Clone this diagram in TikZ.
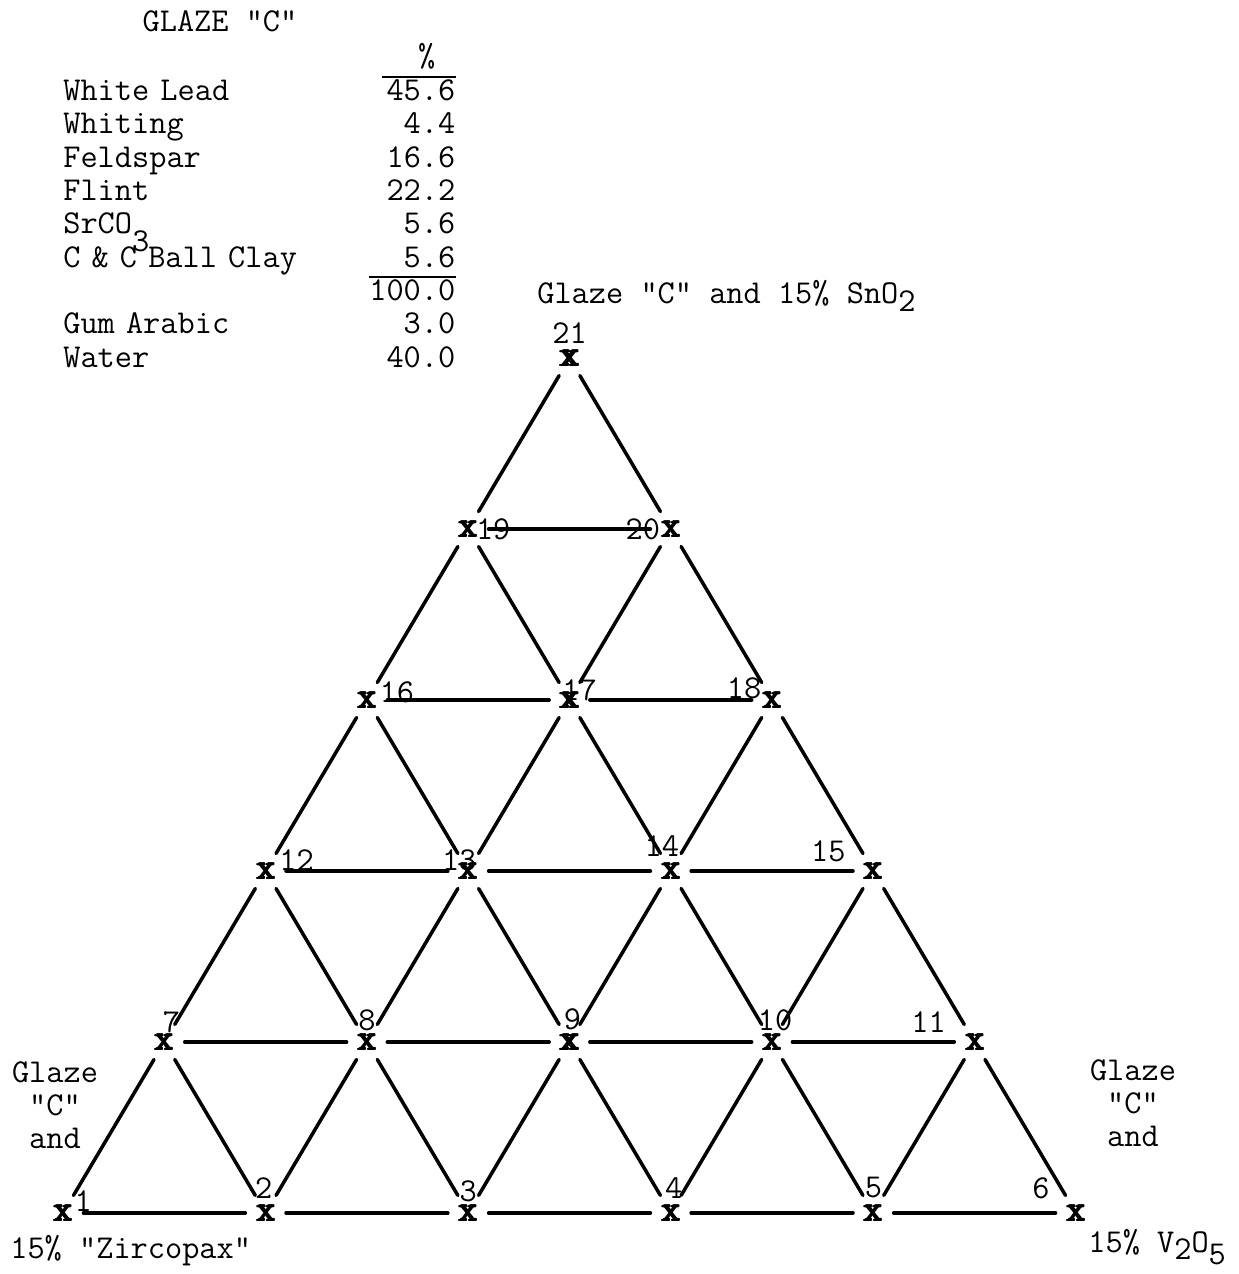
\documentclass[tikz,border=0pt]{standalone}
\usepackage{tikz}
\usetikzlibrary{matrix,positioning,calc}

\newcommand{\typew}{\ttfamily\fontsize{19}{18.7}\selectfont}
\newcommand{\lowered}[2][-8pt]{\raisebox{#1}{#2}}
\newcommand{\heavyx}{\rlap{x}\kern0.6pt\rlap{x}\kern0.6pt\rlap{\raisebox{0.4pt}{x}}x}

\tikzset{
  xmark/.style={circle, minimum size=0.8cm, inner sep=0pt, font=\ttfamily\fontsize{21}{21}\selectfont},
  numlbl/.style={inner sep=0pt, font=\typew},
  tieline/.style={line width=2pt, line cap=round},
  rule/.style={line width=1.2pt},
  note/.style={inner sep=0pt, font=\typew, align=center}
}

\begin{document}
\begin{tikzpicture}[x=0.02cm, y=-0.02cm]
\fill[white] (0,0) rectangle (1238,1274);
\useasboundingbox (0,0) rectangle (1238,1274);

% recipe of the glaze
\node[note, anchor=base] (title) at (220,32) {GLAZE "C"};
\matrix (recipe) [matrix of nodes, anchor=north west, inner sep=0pt, row sep=0pt, column sep=0pt,
  nodes={inner sep=0pt, text height=0.47cm, text depth=0.198cm, font=\typew},
  column 1/.style={nodes={text width=5.5cm, align=left}},
  column 2/.style={nodes={text width=2.34cm, align=right}}] at (63,43)
{
 & \%\hspace*{0.6em} \\
White Lead & 45.6 \\
Whiting & 4.4 \\
Feldspar & 16.6 \\
Flint & 22.2 \\
SrCO\lowered[-10pt]{3} & 5.6 \\
C \& C Ball Clay & 5.6 \\
 & 100.0 \\
Gum Arabic & 3.0 \\
Water & 40.0 \\
};
\draw[rule] (recipe-1-2.south east) -- ++(-74,0);
\draw[rule] (recipe-8-2.north east) -- ++(-87,0);

% the triangle of mixtures
\matrix (m) [matrix of nodes, nodes={xmark}, column sep=1.226cm, row sep=2.62cm] at (569.5,785.5)
{
  & & & & & \heavyx & & & & & \\
  & & & & \heavyx & & \heavyx & & & & \\
  & & & \heavyx & & \heavyx & & \heavyx & & & \\
  & & \heavyx & & \heavyx & & \heavyx & & \heavyx & & \\
  & \heavyx & & \heavyx & & \heavyx & & \heavyx & & \heavyx & \\
  \heavyx & & \heavyx & & \heavyx & & \heavyx & & \heavyx & & \heavyx \\
};
\path[tieline]
(m-6-1) edge (m-6-3) edge (m-5-2)
(m-6-3) edge (m-6-5) edge (m-5-2) edge (m-5-4)
(m-6-5) edge (m-6-7) edge (m-5-4) edge (m-5-6)
(m-6-7) edge (m-6-9) edge (m-5-6) edge (m-5-8)
(m-6-9) edge (m-6-11) edge (m-5-8) edge (m-5-10)
(m-6-11) edge (m-5-10)
(m-5-2) edge (m-5-4) edge (m-4-3)
(m-5-4) edge (m-5-6) edge (m-4-3) edge (m-4-5)
(m-5-6) edge (m-5-8) edge (m-4-5) edge (m-4-7)
(m-5-8) edge (m-5-10) edge (m-4-7) edge (m-4-9)
(m-5-10) edge (m-4-9)
(m-4-3) edge (m-4-5) edge (m-3-4)
(m-4-5) edge (m-4-7) edge (m-3-4) edge (m-3-6)
(m-4-7) edge (m-4-9) edge (m-3-6) edge (m-3-8)
(m-4-9) edge (m-3-8)
(m-3-4) edge (m-3-6) edge (m-2-5)
(m-3-6) edge (m-3-8) edge (m-2-5) edge (m-2-7)
(m-3-8) edge (m-2-7)
(m-2-5) edge (m-2-7) edge (m-1-6)
(m-2-7) edge (m-1-6)
;

% numbers of the mixtures
\foreach \c/\t/\dx/\dy in {6-1/1/20/-12, 6-3/2/-2/-25, 6-5/3/0/-22, 6-7/4/3/-25, 6-9/5/0/-25, 6-11/6/-35/-25,
  5-2/7/7/-20, 5-4/8/0/-22, 5-6/9/3/-23, 5-8/10/3/-22, 5-10/11/-46/-20,
  4-3/12/31/-11, 4-5/13/-9/-11, 4-7/14/-9/-25, 4-9/15/-45/-20,
  3-4/16/30/-8, 3-6/17/10/-10, 3-8/18/-28/-12,
  2-5/19/25/0, 2-7/20/-28/0, 1-6/21/0/-25}
  \node[numlbl] (n\t) at ($(m-\c)+(\dx,\dy)$) {\t};

% corners
\node[note, anchor=base west] (top) at (537,303) {Glaze "C" and 15\% SnO\lowered[-5pt]{2}};
\node[note] (leftnote) at (55,1105) {Glaze\\"C"\\and};
\node[note, anchor=base west] (leftend) at (10,1258) {15\% "Zircopax"};
\node[note, anchor=base west] (rightend) at (1088,1252) {15\% V\lowered[-4pt]{2}O\lowered[-7pt]{5}};
\node[note] (rightnote) at (1133,1103) {Glaze\\"C"\\and};
\end{tikzpicture}
\end{document}
